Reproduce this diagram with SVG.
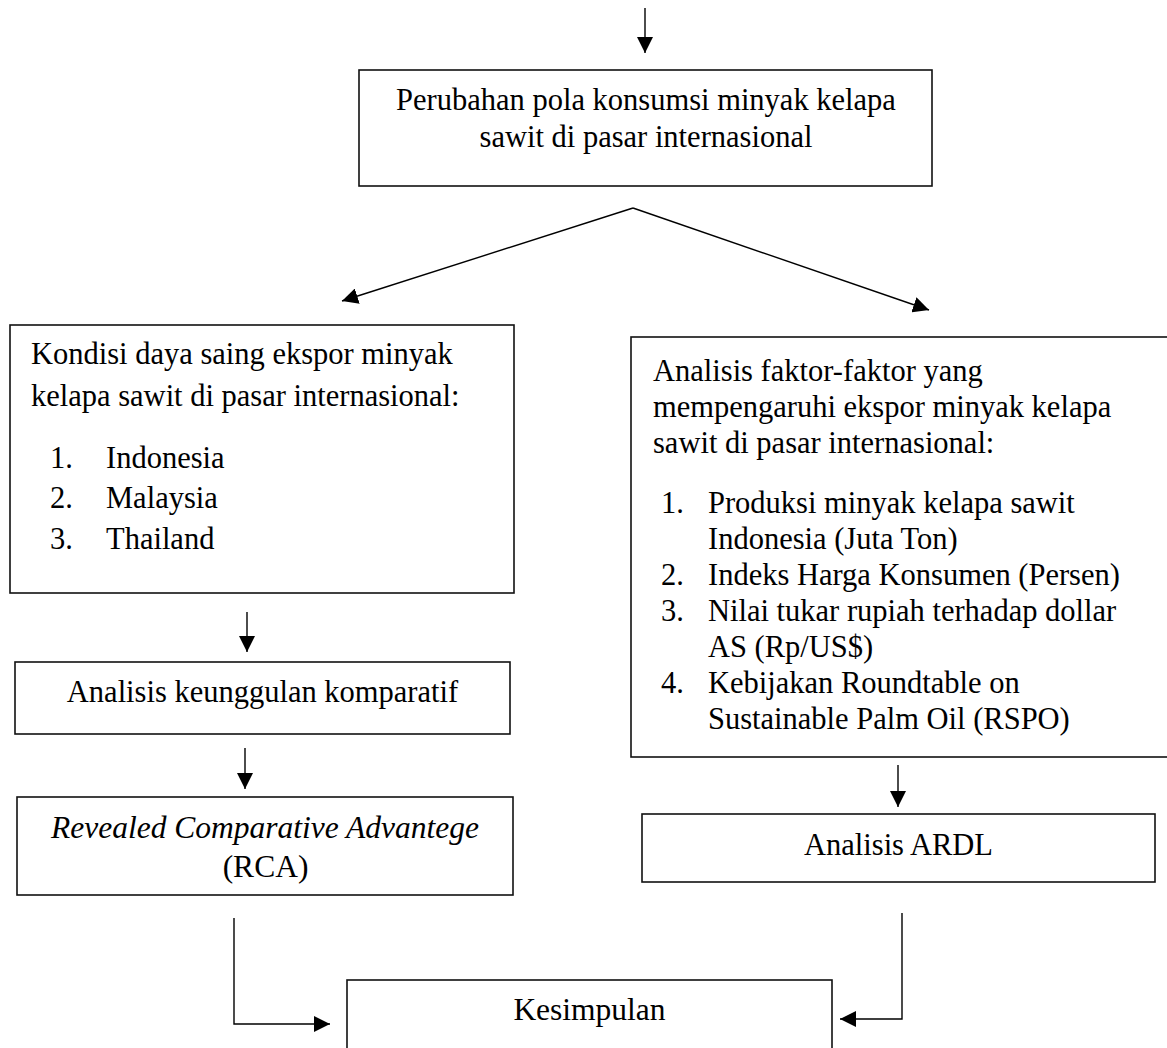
<svg xmlns="http://www.w3.org/2000/svg" width="1167" height="1048" viewBox="0 0 1167 1048">
<style>
.box{fill:#fff;stroke:#111;stroke-width:1.6}
.g{font-family:"Liberation Serif","Times New Roman",serif;font-size:30.5px;fill:#000}
.t{font-family:"Liberation Serif","Times New Roman",serif;font-size:31.5px;fill:#000}
.c{text-anchor:middle}
.ln{fill:none;stroke:#000;stroke-width:1.4}
</style>
<defs>
<marker id="ah" markerUnits="userSpaceOnUse" markerWidth="16" markerHeight="16" viewBox="0 0 15 15" refX="15" refY="7.5" orient="auto">
<path d="M0,0 L15,7.5 L0,15 z" fill="#000"/>
</marker>
</defs>
<rect width="1167" height="1048" fill="#fff"/>
<g id="connectors">
<path class="ln" d="M645 8 V53" marker-end="url(#ah)"/>
<path class="ln" d="M633 208 L342 301" marker-end="url(#ah)"/>
<path class="ln" d="M633 208 L929 310" marker-end="url(#ah)"/>
<path class="ln" d="M247 612 V652" marker-end="url(#ah)"/>
<path class="ln" d="M245 748 V789" marker-end="url(#ah)"/>
<path class="ln" d="M234 918 V1024 H330" marker-end="url(#ah)"/>
<path class="ln" d="M898 765 V807" marker-end="url(#ah)"/>
<path class="ln" d="M902 913 V1019 H840" marker-end="url(#ah)"/>
</g>
<g id="node-perubahan">
<rect class="box" x="359" y="70" width="573" height="116"/>
<text class="g c" x="646" y="110">Perubahan pola konsumsi minyak kelapa</text>
<text class="g c" x="646" y="147">sawit di pasar internasional</text>
</g>
<g id="node-kondisi">
<rect class="box" x="10" y="325" width="504" height="268"/>
<text class="g" x="31" y="364">Kondisi daya saing ekspor minyak</text>
<text class="g" x="31" y="406">kelapa sawit di pasar internasional:</text>
<text class="g" x="50" y="468" font-size="26">1.</text>
<text class="g" x="106" y="468">Indonesia</text>
<text class="g" x="50" y="508" font-size="26">2.</text>
<text class="g" x="106" y="508">Malaysia</text>
<text class="g" x="50" y="549" font-size="26">3.</text>
<text class="g" x="106" y="549">Thailand</text>
</g>
<g id="node-keunggulan">
<rect class="box" x="15" y="662" width="495" height="72"/>
<text class="g c" x="262.5" y="702">Analisis keunggulan komparatif</text>
</g>
<g id="node-rca">
<rect class="box" x="17" y="797" width="496" height="98"/>
<text class="t c" x="265" y="838" font-style="italic">Revealed Comparative Advantege</text>
<text class="t c" x="265.5" y="877">(RCA)</text>
</g>
<g id="node-faktor">
<rect class="box" x="631" y="337" width="540" height="420" stroke-width="2"/>
<text class="g" x="653" y="381">Analisis faktor-faktor yang</text>
<text class="g" x="653" y="417">mempengaruhi ekspor minyak kelapa</text>
<text class="g" x="653" y="453">sawit di pasar internasional:</text>
<text class="g" x="661" y="513">1.</text>
<text class="g" x="708" y="513">Produksi minyak kelapa sawit</text>
<text class="g" x="708" y="549">Indonesia (Juta Ton)</text>
<text class="g" x="661" y="585">2.</text>
<text class="g" x="708" y="585">Indeks Harga Konsumen (Persen)</text>
<text class="g" x="661" y="621">3.</text>
<text class="g" x="708" y="621">Nilai tukar rupiah terhadap dollar</text>
<text class="g" x="708" y="657">AS (Rp/US$)</text>
<text class="g" x="661" y="693">4.</text>
<text class="g" x="708" y="693">Kebijakan Roundtable on</text>
<text class="g" x="708" y="729">Sustainable Palm Oil (RSPO)</text>
</g>
<g id="node-ardl">
<rect class="box" x="642" y="814" width="513" height="68"/>
<text class="g c" x="898.5" y="855">Analisis ARDL</text>
</g>
<g id="node-kesimpulan">
<rect class="box" x="347" y="980" width="485" height="80"/>
<text class="t c" x="589.5" y="1020">Kesimpulan</text>
</g>
</svg>
